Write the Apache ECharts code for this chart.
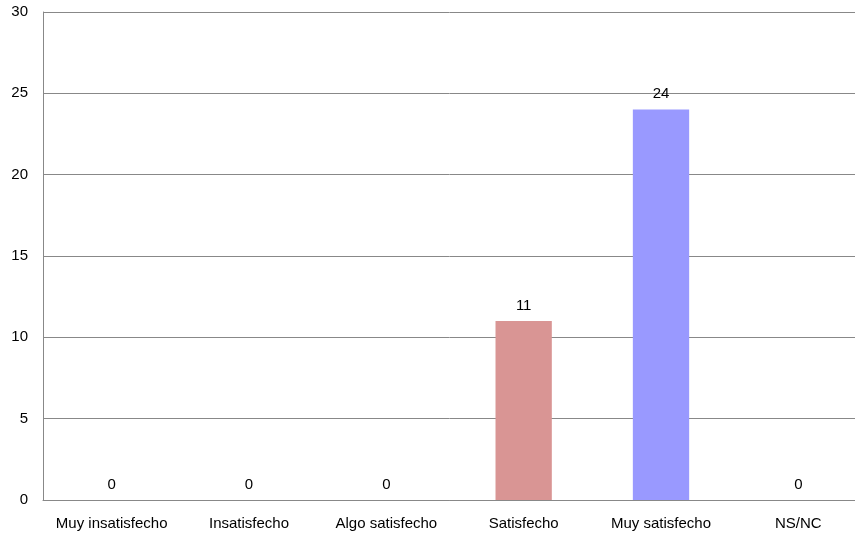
<!DOCTYPE html>
<html><head><meta charset="utf-8">
<script src="https://cdn.jsdelivr.net/npm/echarts@6/dist/echarts.min.js"></script>
<style>html,body{margin:0;padding:0;background:#fff;overflow:hidden}#c{width:855px;height:535px}</style>
</head><body><div id="c"></div>
<script>
const categories = ["Muy insatisfecho","Insatisfecho","Algo satisfecho","Satisfecho","Muy satisfecho","NS/NC"];
const values = [0,0,0,11,24,0];
const barColors = ["#9999ff","#993366","#ffffcc","#d99594","#9999ff","#660066"];
const chart = echarts.init(document.getElementById('c'), null, {renderer:'canvas'});
const font = 'Liberation Sans, Arial';
chart.setOption({
  animation:false,
  grid:{left:43,top:12,width:824,bottom:35,containLabel:false,outerBoundsMode:'none'},
  xAxis:{type:'category',data:categories,
    axisLine:{lineStyle:{color:'#888',width:1}},axisTick:{show:false},
    axisLabel:{color:'#000',fontFamily:font,fontSize:15,margin:16,interval:0}},
  yAxis:{type:'value',min:0,max:30,interval:5,
    axisLine:{show:true,lineStyle:{color:'#888',width:1}},axisTick:{show:false},
    splitLine:{lineStyle:{color:'#888',width:1}},
    axisLabel:{color:'#000',fontFamily:font,fontSize:15,margin:15}},
  series:[{type:'bar',barWidth:'41%',
    data:values.map((v,i)=>({value:v,itemStyle:{color:barColors[i]}})),
    label:{show:true,position:'top',distance:8,color:'#000',fontFamily:font,fontSize:15}}]
});
</script></body></html>
